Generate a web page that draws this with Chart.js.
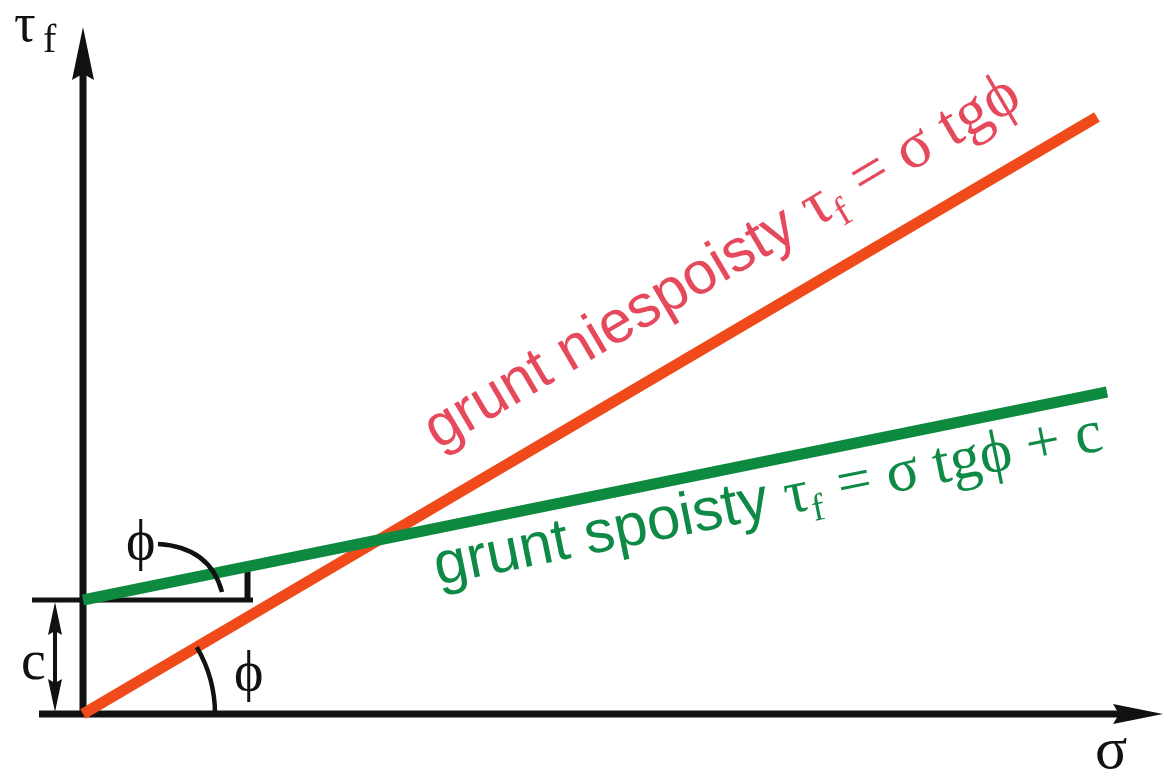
<!DOCTYPE html>
<html>
<head>
<meta charset="utf-8">
<title>Wytrzymałość gruntu na ścinanie</title>
<script src="https://cdn.jsdelivr.net/npm/chart.js@4/dist/chart.umd.min.js"></script>
<style>
  html, body { margin: 0; padding: 0; background: #fff; }
  #wrap { width: 1163px; height: 770px; position: relative; }
</style>
</head>
<body>
<div id="wrap"><canvas id="chart"></canvas></div>
<script>
// ── Data (σ along x, τ along y, 1 unit = 100 px) ──
const sigmaNiespoisty = [0, 10.14];
const tauNiespoisty   = [0, 5.97];
const sigmaSpoisty    = [0, 10.24];
const tauSpoisty      = [1.14, 3.22];
const cohesion        = 1.14;

// axis extents (start, arrow tip)
const sigmaAxis = [-0.44, 10.80];
const tauAxis   = [-0.03, 6.87];

// labels
const labelNiespoisty = ['grunt niespoisty ', 'τ', 'f', ' = σ tgϕ'];
const labelSpoisty    = ['grunt spoisty ', 'τ', 'f', ' = σ tgϕ + c'];

const SANS  = '"Liberation Sans", Arial, sans-serif';
const SERIF = '"Liberation Serif", "DejaVu Serif", serif';

const COL_ORANGE = '#f04a1a';
const COL_GREEN  = '#0d8a40';
const COL_RED_TXT = '#e6485c';
const COL_GREEN_TXT = '#0f8a46';
const INK = '#111';

// ── helpers ──
function arrowHead(ctx, tx, ty, ang, len, half) {
  // tip at (tx,ty), pointing along ang (radians, canvas coords)
  const c = Math.cos(ang), s = Math.sin(ang);
  const bx = tx - c * len, by = ty - s * len;
  const nx = bx + c * len * 0.12, ny = by + s * len * 0.12;
  ctx.beginPath();
  ctx.moveTo(tx, ty);
  ctx.lineTo(bx - s * half, by + c * half);
  ctx.lineTo(nx, ny);
  ctx.lineTo(bx + s * half, by - c * half);
  ctx.closePath();
  ctx.fill();
}

function seg(ctx, x1, y1, x2, y2, w) {
  ctx.lineWidth = w;
  ctx.beginPath();
  ctx.moveTo(x1, y1);
  ctx.lineTo(x2, y2);
  ctx.stroke();
}

// text along a slanted baseline: word part, τ, subscript f, formula
function slantedLabel(ctx, px, py, ang, parts, color, size, mathSize) {
  ctx.save();
  ctx.translate(px, py);
  ctx.rotate(-ang);
  ctx.fillStyle = color;
  ctx.textBaseline = 'alphabetic';
  let x = 0;
  const runs = [
    { t: parts[0], f: `${size}px ${SANS}`, dy: 0 },
    { t: parts[1], f: `${mathSize}px ${SERIF}`, dy: 0 },
    { t: parts[2], f: `${Math.round(mathSize * 0.62)}px ${SERIF}`, dy: mathSize * 0.2 },
    { t: parts[3], f: `${mathSize}px ${SERIF}`, dy: 0 },
  ];
  runs.forEach(r => {
    ctx.font = r.f;
    ctx.fillText(r.t, x, r.dy);
    x += ctx.measureText(r.t).width + (r.t === 'f' ? 2 : 0);
  });
  ctx.restore();
}

// ── Axes, dimensions and labels ──
const diagramPlugin = {
  id: 'diagram',
  beforeDatasetsDraw(chart) {
    const { ctx, scales: { x, y } } = chart;
    const X = v => x.getPixelForValue(v);
    const Y = v => y.getPixelForValue(v);
    ctx.save();
    ctx.strokeStyle = INK;
    ctx.fillStyle = INK;
    ctx.lineCap = 'butt';

    // σ axis
    seg(ctx, X(sigmaAxis[0]), Y(0), X(sigmaAxis[1]) - 30, Y(0), 7);
    arrowHead(ctx, X(sigmaAxis[1]), Y(0), 0, 50, 10);
    // τ axis
    seg(ctx, X(0), Y(tauAxis[0]), X(0), Y(tauAxis[1]) + 30, 7);
    arrowHead(ctx, X(0), Y(tauAxis[1]), -Math.PI / 2, 53, 11);

    // cohesion shelf + tick
    seg(ctx, X(-0.51), Y(cohesion), X(1.70), Y(cohesion), 5);
    seg(ctx, X(1.645), Y(cohesion) + 2, X(1.645), Y(1.47), 6);

    // c dimension
    const dx = X(-0.28);
    seg(ctx, dx, Y(0) - 20, dx, Y(cohesion) + 20, 4);
    arrowHead(ctx, dx, Y(cohesion) + 2, -Math.PI / 2, 33, 7);
    arrowHead(ctx, dx, Y(0) - 2, Math.PI / 2, 33, 7);
    ctx.restore();
  },
  afterDatasetsDraw(chart) {
    const { ctx, scales: { x, y } } = chart;
    const X = v => x.getPixelForValue(v);
    const Y = v => y.getPixelForValue(v);
    ctx.save();
    ctx.strokeStyle = INK;
    ctx.fillStyle = INK;

    // angle arc at origin
    const angN = Math.atan2(Y(0) - Y(tauNiespoisty[1]), X(sigmaNiespoisty[1]) - X(0));
    ctx.lineWidth = 4.5;
    ctx.beginPath();
    ctx.arc(X(0), Y(0), 132, -angN, 0);
    ctx.stroke();

    // leader from upper ϕ to the cohesion line angle
    ctx.beginPath();
    ctx.moveTo(X(0.75), Y(1.70));
    ctx.quadraticCurveTo(X(1.27), Y(1.67), X(1.39), Y(1.22));
    ctx.stroke();

    // black symbols
    ctx.textBaseline = 'alphabetic';
    ctx.font = `54px ${SERIF}`;
    ctx.fillText('τ', 14, 41);
    ctx.font = `40px ${SERIF}`;
    ctx.fillText('f', 43, 52);
    ctx.font = `60px ${SERIF}`;
    ctx.fillText('σ', 1095, 768);
    ctx.font = `56px ${SERIF}`;
    ctx.fillText('c', 21, 679);
    ctx.fillText('ϕ', 126, 559);
    ctx.fillText('ϕ', 234, 690);

    // slanted equations
    const angS = Math.atan2(Y(tauSpoisty[0]) - Y(tauSpoisty[1]), X(sigmaSpoisty[1]) - X(0));
    slantedLabel(ctx, X(3.55), Y(2.64), angN, labelNiespoisty, COL_RED_TXT, 60, 64);
    slantedLabel(ctx, X(3.55), Y(1.29), angS, labelSpoisty, COL_GREEN_TXT, 60, 61);
    ctx.restore();
  },
};

const pts = (xs, ys) => xs.map((v, i) => ({ x: v, y: ys[i] }));

new Chart(document.getElementById('chart'), {
  type: 'scatter',
  data: {
    datasets: [
      {
        label: 'grunt spoisty',
        data: pts(sigmaSpoisty, tauSpoisty),
        showLine: true,
        borderColor: COL_GREEN,
        borderWidth: 11,
        pointRadius: 0,
        order: 0,
      },
      {
        label: 'grunt niespoisty',
        data: pts(sigmaNiespoisty, tauNiespoisty),
        showLine: true,
        borderColor: COL_ORANGE,
        borderWidth: 11,
        pointRadius: 0,
        order: 1,
      },
    ],
  },
  options: {
    responsive: true,
    maintainAspectRatio: false,
    animation: false,
    layout: { padding: 0 },
    plugins: { legend: { display: false }, tooltip: { enabled: false } },
    scales: {
      x: { type: 'linear', min: -0.83, max: 10.80, display: false },
      y: { type: 'linear', min: -0.56, max: 7.14, display: false },
    },
  },
  plugins: [diagramPlugin],
});
</script>
</body>
</html>
